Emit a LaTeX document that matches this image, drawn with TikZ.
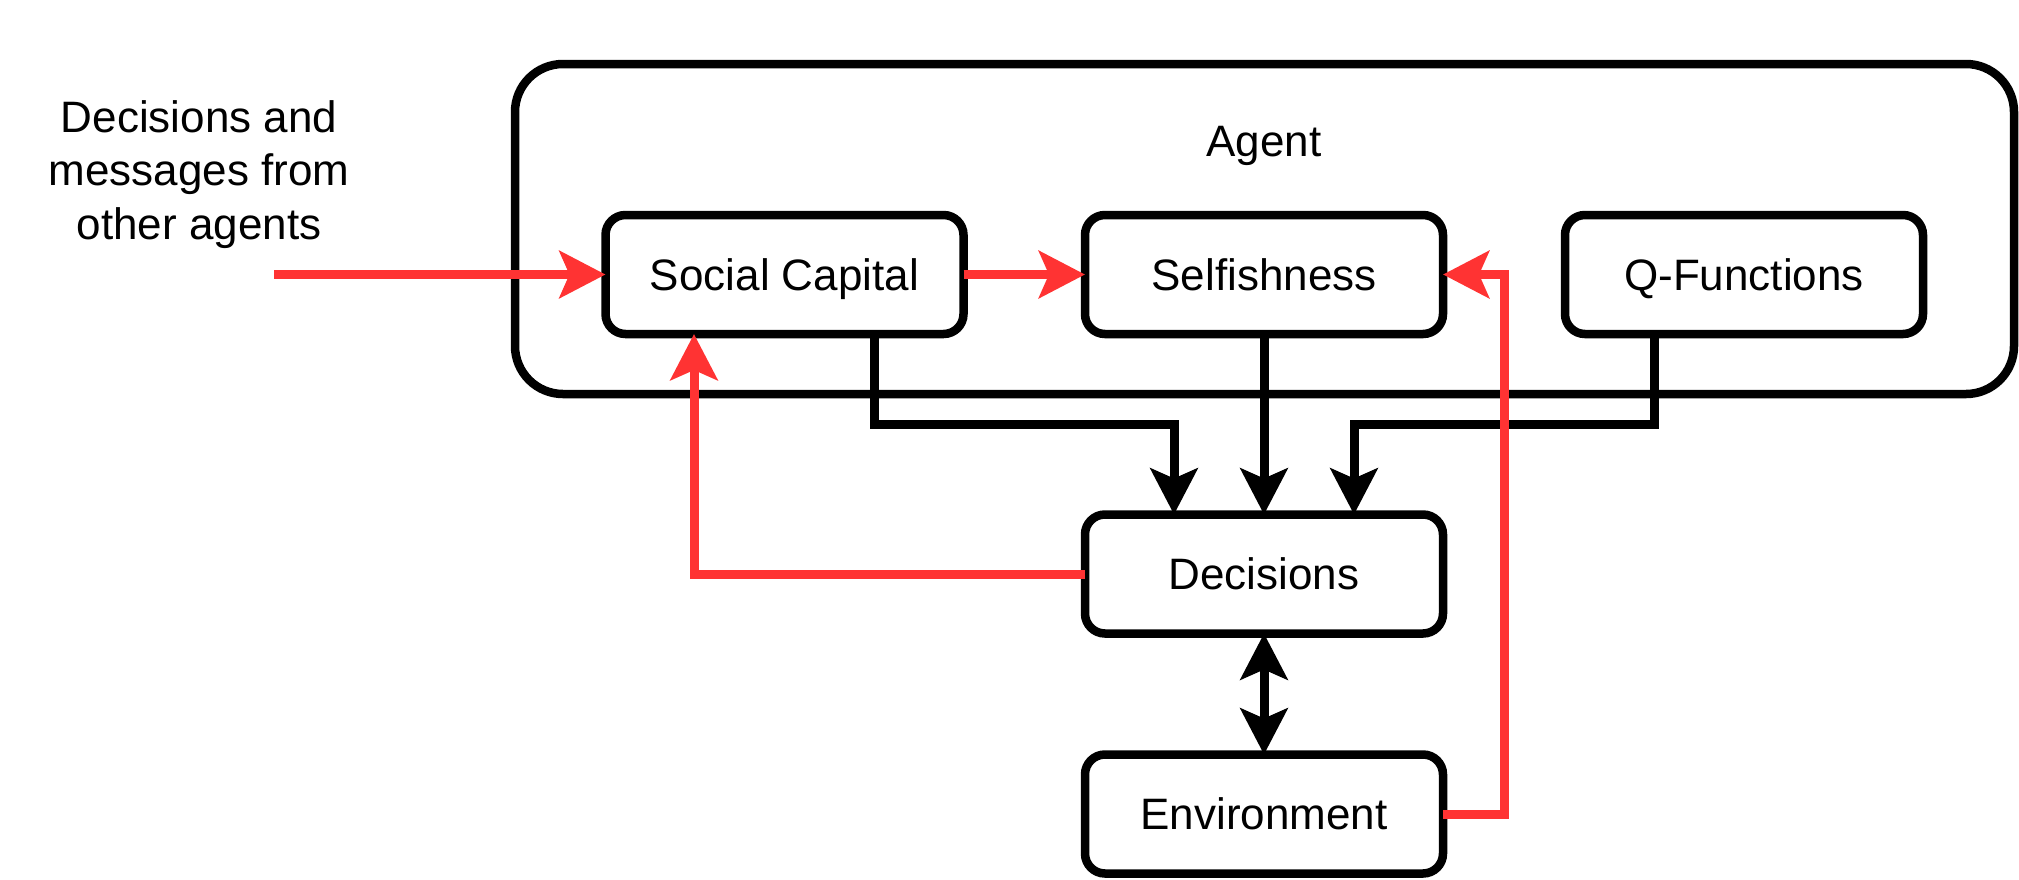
\documentclass[tikz,border=0pt]{standalone}
\usepackage{fontspec}
\setmainfont{Liberation Sans}
\usetikzlibrary{arrows.meta,calc}
\definecolor{arrred}{RGB}{255,51,51}
\begin{document}
\begin{tikzpicture}[x=1pt,y=-1pt,
  >={Stealth[length=46pt,width=47pt,inset=10pt]},
  txt/.style={font=\fontsize{44}{53.5}\selectfont},
  box/.style={txt, draw, line width=8.5pt, rounded corners=20pt, fill=white,
    minimum width=358pt, minimum height=119pt, inner sep=0pt, outer sep=0pt,
    text height=31.5pt, text depth=0pt},
  conn/.style={line width=9pt, ->},
  redconn/.style={conn, draw=arrred},
  blackconn/.style={conn, draw=black}
]
\useasboundingbox (0,0) rectangle (2019,879);

% outer agent container
\node[draw, line width=8.5pt, rounded corners=48pt, minimum width=1499pt,
  minimum height=330pt, inner sep=0pt, outer sep=0pt] (agent) at (1264.5,229) {};
\node[txt, anchor=base] (agentlbl) at (1264,156) {Agent};

% left text
\node[txt, align=center, anchor=base] (src) at (199,239) {Decisions and\\messages from\\other agents};

% boxes
\node[box] (sc) at (784.5,274.5) {Social Capital};
\node[box] (self) at (1264,274.5) {Selfishness};
\node[box] (q) at (1744,274.5) {Q-Functions};
\node[box] (dec) at (1264,574) {Decisions};
\node[box] (env) at (1264,814) {Environment};

\coordinate (srcpt) at (274,274.5);

% black connectors
\draw[blackconn] ([xshift=89.5pt]sc.south) -- ++(0,90) -| ([xshift=-90pt]dec.north);
\draw[blackconn] (self.south) -- (dec.north);
\draw[blackconn] ([xshift=-90pt]q.south) -- ++(0,90) -| ([xshift=90pt]dec.north);
\draw[blackconn, <->] (dec.south) -- (env.north);

% red connectors
\draw[redconn] (srcpt) -- (sc.west);
\draw[redconn] (sc.east) -- (self.west);
\draw[redconn] (env.east) -- ++(61,0) |- (self.east);
\draw[redconn] (dec.west) -| ([xshift=-90.5pt]sc.south);
\end{tikzpicture}
\end{document}
